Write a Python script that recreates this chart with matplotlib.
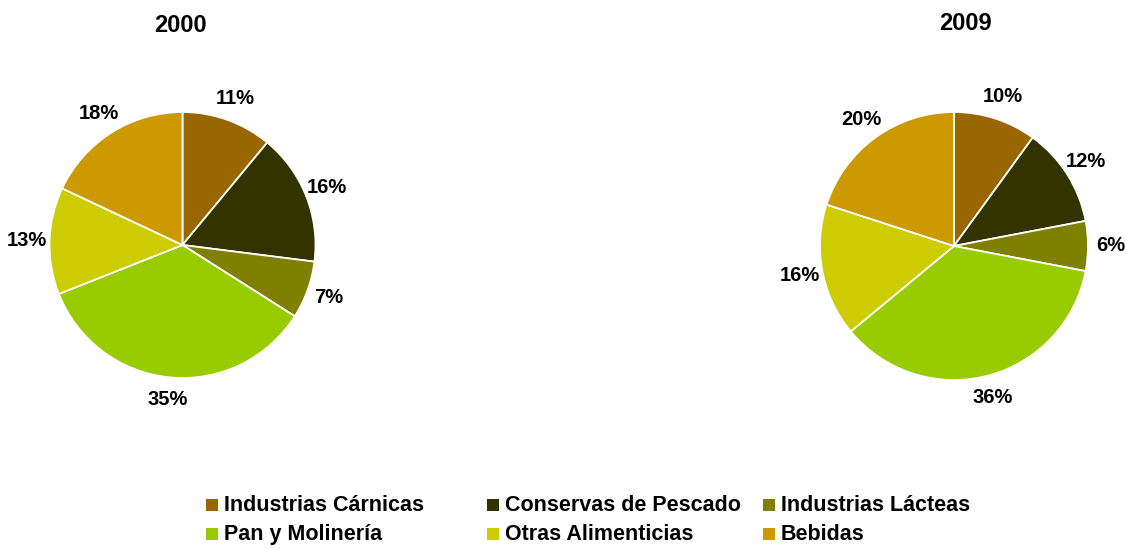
import matplotlib
matplotlib.use('Agg')
import matplotlib.pyplot as plt
from matplotlib.patches import Rectangle

W, H = 1126, 549

categories = ['Industrias Cárnicas', 'Conservas de Pescado', 'Industrias Lácteas',
              'Pan y Molinería', 'Otras Alimenticias', 'Bebidas']
colors = ['#996600', '#333300', '#808000', '#99CC00', '#CCCC00', '#CC9900']
years = ['2000', '2009']
shares_2000 = [11, 16, 7, 35, 13, 18]
shares_2009 = [10, 12, 6, 36, 16, 20]

plt.rcParams['font.family'] = ['Liberation Sans', 'DejaVu Sans']
plt.rcParams['font.weight'] = 'bold'

fig = plt.figure(figsize=(W / 100, H / 100), dpi=100)


def px_box(cx, cy, r):
    # axes box in figure fraction from pixel centre / radius (y from top)
    return [(cx - r) / W, (H - cy - r) / H, 2 * r / W, 2 * r / H]


# pie centre x, y, radius (px) and title position
pies = [
    (shares_2000, 182.5, 245, 133, 180, 25),
    (shares_2009, 954, 246, 134, 965, 23),
]

for (values, cx, cy, r, tx, ty), year in zip(pies, years):
    ax = fig.add_axes(px_box(cx, cy, r))
    wedges, texts, autotexts = ax.pie(
        values, colors=colors, startangle=90, counterclock=False,
        radius=1, autopct=lambda p: f'{p:.0f}%', pctdistance=1.17,
        wedgeprops=dict(edgecolor='white', linewidth=1.3),
        textprops=dict(fontsize=14.5, fontweight='bold', color='black'))
    for t in autotexts:
        t.set_clip_on(False)
    ax.set_xlim(-1, 1)
    ax.set_ylim(-1, 1)
    ax.set_aspect('equal')
    ax.axis('off')
    fig.text(tx / W, 1 - ty / H, year, ha='center', va='center',
             fontsize=17, fontweight='bold')

# leyenda manual en 2 filas x 3 columnas
col_x = [206, 487, 763]
row_base = [511, 540]
for i, (label, color) in enumerate(zip(categories, colors)):
    row, col = divmod(i, 3)
    x = col_x[col]
    yb = row_base[row]
    fig.patches.append(Rectangle((x / W, (H - yb) / H), 12 / W, 12 / H,
                                 transform=fig.transFigure, facecolor=color,
                                 edgecolor='none'))
    fig.text((x + 18) / W, (H - yb) / H, label, ha='left', va='baseline',
             fontsize=15.5, fontweight='bold')

fig.savefig('out.png', dpi=100)
